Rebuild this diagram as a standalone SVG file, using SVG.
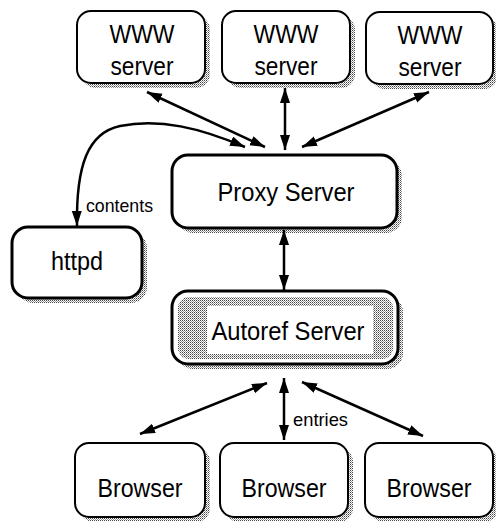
<svg xmlns="http://www.w3.org/2000/svg" width="496" height="521" viewBox="0 0 496 521">
<defs>
<pattern id="stip" width="2" height="2" patternUnits="userSpaceOnUse">
<rect width="2" height="2" fill="#ffffff"/>
<rect width="1" height="1" fill="#444"/>
<rect x="1" y="1" width="1" height="1" fill="#999"/>
</pattern>
<marker id="ah" markerUnits="userSpaceOnUse" markerWidth="16" markerHeight="11" refX="15" refY="5" orient="auto-start-reverse">
<path d="M0,0 L15,5 L0,10 z" fill="#000"/>
</marker>
<style>
.box{fill:#fff;stroke:#000;stroke-width:2}
.thick{stroke-width:3}
.sh{fill:url(#stip)}
.t{font-family:"Liberation Sans",Arial,sans-serif;font-size:26px;text-anchor:middle;fill:#000}
.lbl{font-family:"Liberation Sans",Arial,sans-serif;font-size:19px;fill:#000}
.c{fill:none;stroke:#000;stroke-width:2.5;marker-start:url(#ah);marker-end:url(#ah)}
</style>
</defs>
<rect width="496" height="521" fill="#fff"/>

<g id="www1">
<rect class="sh" x="82" y="16" width="128" height="72" rx="14"/>
<rect class="box" x="77" y="11" width="128" height="72" rx="14"/>
<text class="t" x="142" y="43" textLength="65" lengthAdjust="spacingAndGlyphs">WWW</text>
<text class="t" x="142" y="75" textLength="63" lengthAdjust="spacingAndGlyphs">server</text>
</g>
<g id="www2">
<rect class="sh" x="227" y="16" width="128" height="72" rx="14"/>
<rect class="box" x="222" y="11" width="128" height="72" rx="14"/>
<text class="t" x="286" y="43" textLength="65" lengthAdjust="spacingAndGlyphs">WWW</text>
<text class="t" x="286" y="75" textLength="63" lengthAdjust="spacingAndGlyphs">server</text>
</g>
<g id="www3">
<rect class="sh" x="371" y="17" width="127" height="72" rx="14"/>
<rect class="box" x="366" y="12" width="127" height="72" rx="14"/>
<text class="t" x="430" y="44" textLength="65" lengthAdjust="spacingAndGlyphs">WWW</text>
<text class="t" x="430" y="76" textLength="63" lengthAdjust="spacingAndGlyphs">server</text>
</g>
<g id="proxy">
<rect class="sh" x="177" y="160" width="225" height="73" rx="16"/>
<rect class="box thick" x="172" y="155" width="225" height="73" rx="16"/>
<text class="t" x="286" y="201" textLength="137" lengthAdjust="spacingAndGlyphs">Proxy Server</text>
</g>
<g id="httpd">
<rect class="sh" x="17" y="232" width="130" height="71" rx="16"/>
<rect class="box thick" x="12" y="227" width="130" height="71" rx="16"/>
<text class="t" x="77" y="270" textLength="52" lengthAdjust="spacingAndGlyphs">httpd</text>
</g>
<g id="autoref">
<rect class="sh" x="177" y="296" width="226" height="73" rx="16"/>
<rect class="box thick" x="172" y="291" width="226" height="73" rx="16"/>
<rect x="178" y="297" width="215" height="62" rx="11" fill="url(#stip)"/>
<rect x="207" y="306" width="166" height="48" fill="#fff"/>
<text class="t" x="288" y="340" textLength="153" lengthAdjust="spacingAndGlyphs">Autoref Server</text>
</g>
<g id="browser1">
<rect class="sh" x="80" y="448" width="130" height="74" rx="14"/>
<rect class="box" x="75" y="443" width="130" height="74" rx="14"/>
<text class="t" x="140" y="497" textLength="85" lengthAdjust="spacingAndGlyphs">Browser</text>
</g>
<g id="browser2">
<rect class="sh" x="225" y="448" width="128" height="74" rx="14"/>
<rect class="box" x="220" y="443" width="128" height="74" rx="14"/>
<text class="t" x="284" y="497" textLength="85" lengthAdjust="spacingAndGlyphs">Browser</text>
</g>
<g id="browser3">
<rect class="sh" x="370" y="448" width="128" height="74" rx="14"/>
<rect class="box" x="365" y="443" width="128" height="74" rx="14"/>
<text class="t" x="429" y="497" textLength="85" lengthAdjust="spacingAndGlyphs">Browser</text>
</g>

<g id="connectors">
<line class="c" x1="147" y1="92" x2="265" y2="147"/>
<line class="c" x1="285" y1="88" x2="285" y2="150"/>
<line class="c" x1="429" y1="92" x2="302" y2="147"/>
<path class="c" d="M245,147 C200,128 160,118 120,126 C88,133 76,165 77,226"/>
<line class="c" x1="284" y1="230" x2="284" y2="290"/>
<line class="c" x1="267" y1="383" x2="140" y2="434"/>
<line class="c" x1="284" y1="378" x2="284" y2="440"/>
<line class="c" x1="302" y1="382" x2="423" y2="436"/>
<text class="lbl" x="86" y="212" textLength="67" lengthAdjust="spacingAndGlyphs">contents</text>
<text class="lbl" x="293" y="426" textLength="55" lengthAdjust="spacingAndGlyphs">entries</text>
</g>
</svg>
